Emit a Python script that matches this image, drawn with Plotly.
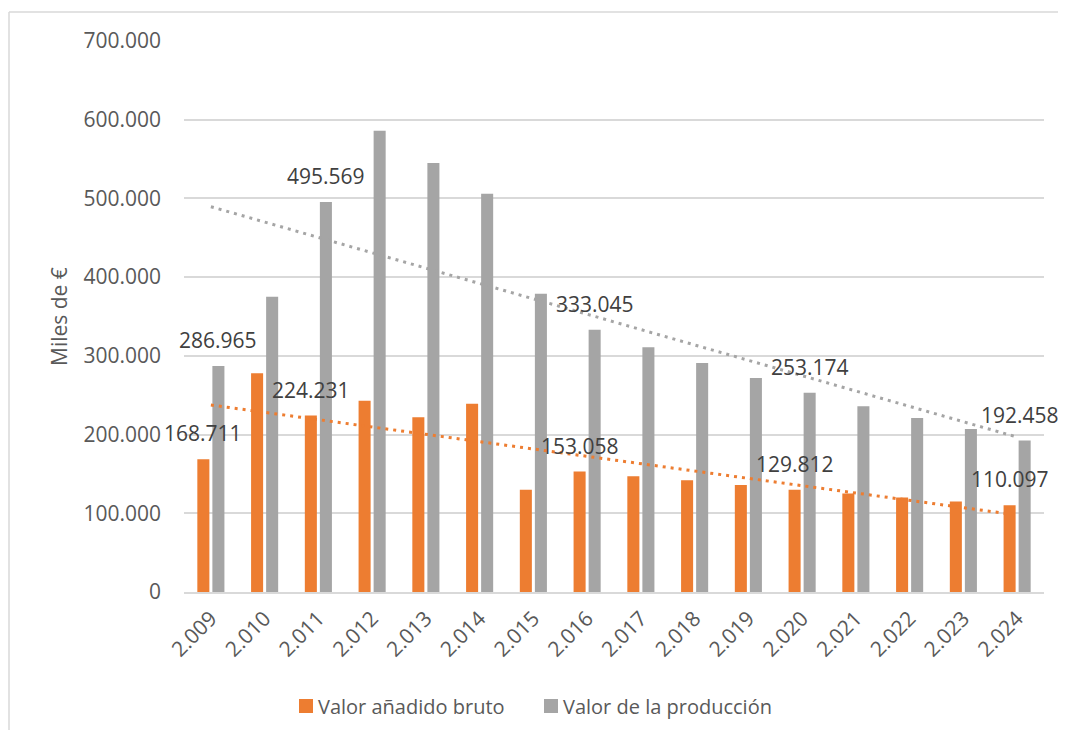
import numpy as np
import plotly.graph_objects as go

years = ["2.009", "2.010", "2.011", "2.012", "2.013", "2.014", "2.015", "2.016",
         "2.017", "2.018", "2.019", "2.020", "2.021", "2.022", "2.023", "2.024"]
vab = [168711, 278000, 224231, 243000, 222000, 239000, 130000, 153058,
       147000, 142000, 136000, 129812, 125000, 120000, 115000, 110097]
produccion = [286965, 375000, 495569, 586000, 545000, 506000, 379000, 333045,
              311000, 291000, 272000, 253174, 236000, 221000, 207000, 192458]
labeled_idx = [0, 2, 7, 11, 15]
y_ticks = [0, 100000, 200000, 300000, 400000, 500000, 600000, 700000]
y_ticktext = ["0", "100.000", "200.000", "300.000", "400.000", "500.000", "600.000", "700.000"]

ORANGE = "#ED7D31"
GRAY = "#A5A5A5"
TXT = "#595959"
LBL = "#404040"
FONT = "Open Sans"

# the page body has an 8px margin; work in page pixels and convert
OFF = 8
PAGE_W, PAGE_H = 1066, 738
W, H = PAGE_W - OFF, PAGE_H - 2 * OFF
PL, PR, PT, PB = 184, 1044, 41, 592          # plot area, page pixels
L, T = PL - OFF, PT - OFF
R, B = (OFF + W) - PR, (OFF + H) - PB
PW, PH = PR - PL, PB - PT


def px2paper(px, py):
    return (px - PL) / PW, (PB - py) / PH


fig = go.Figure()
fig.add_trace(go.Bar(x=years, y=vab, name="Valor añadido bruto",
                     marker=dict(color=ORANGE, line=dict(width=0)), showlegend=False))
fig.add_trace(go.Bar(x=years, y=produccion, name="Valor de la producción",
                     marker=dict(color=GRAY, line=dict(width=0)), showlegend=False))

# linear trendlines (least squares, as Excel)
xi = np.arange(1, len(years) + 1)
for vals, col in ((vab, ORANGE), (produccion, GRAY)):
    m, c = np.polyfit(xi, np.array(vals, dtype=float), 1)
    fig.add_trace(go.Scatter(x=years, y=m * xi + c, mode="lines", showlegend=False,
                             line=dict(color=col, width=3, dash="3px,5px"),
                             hoverinfo="skip"))

annotations = []
offset = 7.5
for i in labeled_idx:
    for vals, dx in ((vab, -offset), (produccion, offset)):
        v = vals[i]
        s = f"{v:,}".replace(",", ".")
        if i == len(years) - 1 and dx > 0:
            dx = 3  # keep the last label inside the visible page
        annotations.append(dict(x=i, y=v, xref="x", yref="y", text=s,
                                showarrow=False, xanchor="center", yanchor="middle",
                                xshift=dx, yshift=26,
                                font=dict(family=FONT, size=21, color=LBL)))

# y-axis title
tx, ty = px2paper(59, 316)
annotations.append(dict(x=tx, y=ty, xref="paper", yref="paper", text="Miles de €",
                        textangle=-90, showarrow=False, xanchor="center", yanchor="middle",
                        font=dict(family=FONT, size=21, color=TXT)))

# custom legend
shapes = []
legend_items = [("Valor añadido bruto", ORANGE, 299), ("Valor de la producción", GRAY, 544)]
for name, col, sx in legend_items:
    x0, y0 = px2paper(sx, 699)
    x1, y1 = px2paper(sx + 14, 713)
    shapes.append(dict(type="rect", xref="paper", yref="paper", x0=x0, x1=x1, y0=y0, y1=y1,
                       fillcolor=col, line=dict(width=0)))
    lx, ly = px2paper(sx + 17, 706)
    annotations.append(dict(x=lx, y=ly, xref="paper", yref="paper", text=name, showarrow=False,
                            xanchor="left", yanchor="middle",
                            font=dict(family=FONT, size=20, color=TXT)))

# chart-area border: only the top and left edges are visible in the reference
bl, bt = px2paper(9, 12)
br, bb = px2paper(PAGE_W + 20, PAGE_H + 20)
for x0, y0, x1, y1 in ((bl, bt, br, bt), (bl, bt, bl, bb)):
    shapes.append(dict(type="line", xref="paper", yref="paper", x0=x0, y0=y0, x1=x1, y1=y1,
                       line=dict(color="#D9D9D9", width=1.5)))

fig.update_layout(
    width=W, height=H,
    margin=dict(l=L, r=R, t=T, b=B, pad=0),
    paper_bgcolor="white", plot_bgcolor="white",
    barmode="group", bargap=0.44, bargroupgap=0.2,
    font=dict(family=FONT, color=TXT),
    annotations=annotations, shapes=shapes,
    showlegend=False,
    xaxis=dict(type="category", range=[-0.5, len(years) - 0.5], autorange=False,
               tickangle=-45, showgrid=False, showline=True,
               linecolor="#D9D9D9", linewidth=2, ticks="", ticklabelstandoff=4,
               tickfont=dict(family=FONT, size=21, color=TXT), fixedrange=True),
    yaxis=dict(range=[0, 700000], autorange=False, tickvals=y_ticks, ticktext=y_ticktext,
               showgrid=True, gridcolor="#D9D9D9", gridwidth=1.5, zeroline=False,
               showline=False, ticks="", ticklabelstandoff=22,
               tickfont=dict(family=FONT, size=21, color=TXT), fixedrange=True),
)

fig.write_html("out.html")
